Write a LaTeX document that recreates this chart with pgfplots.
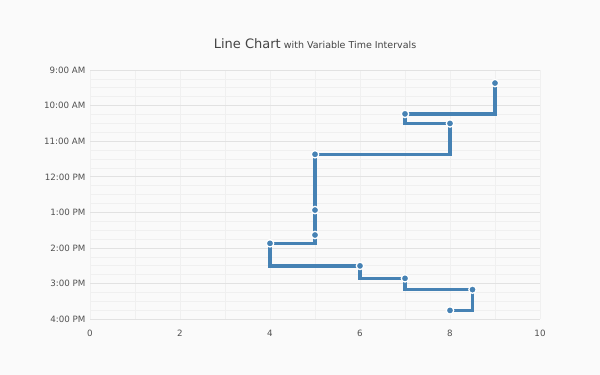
\documentclass[border=0pt]{standalone}
\usepackage{fontspec}
\setmainfont{DejaVu Sans}
\usepackage{pgfplots}
\pgfplotsset{compat=1.18}
\definecolor{bg}{HTML}{FAFAFA}
\definecolor{linec}{HTML}{4682B4}
\definecolor{majgrid}{HTML}{E2E2E2}
\definecolor{mingrid}{HTML}{F0F0F0}
\definecolor{lbl}{HTML}{505050}
\definecolor{ttl}{HTML}{444444}
\begin{document}
\begin{tikzpicture}[x=1pt,y=1pt]
\fill[bg] (0,0) rectangle (600,375);
\begin{axis}[
  at={(90pt,55.7pt)}, anchor=south west,
  scale only axis, width=450pt, height=249.3pt,
  xmin=0, xmax=10, ymin=9, ymax=16,
  y dir=reverse,
  axis line style={draw=none},
  major tick length=0pt, minor tick length=0pt,
  xtick={0,...,10},
  xticklabels={0,,2,,4,,6,,8,,10},
  ytick={9,...,16}, minor y tick num=3,
  yticklabels={9:00 AM,10:00 AM,11:00 AM,12:00 PM,1:00 PM,2:00 PM,3:00 PM,4:00 PM},
  xmajorgrids, ymajorgrids, yminorgrids,
  major x grid style={mingrid, line width=0.8pt},
  major y grid style={majgrid, line width=0.9pt},
  minor y grid style={mingrid, line width=0.8pt},
  /pgf/number format/assume math mode=true,
  tick label style={font=\fontsize{8.7}{8.7}\selectfont, text=lbl},
  xticklabel style={yshift=-7.5pt},
  yticklabel style={xshift=-1pt},
  title={{\fontsize{13}{13}\selectfont Line Chart} {\fontsize{9.5}{9.5}\selectfont with Variable Time Intervals}},
  title style={at={(0.5,1)}, anchor=base, yshift=16pt, text=ttl},
]
\addplot[const plot mark right, draw=linec, line width=3.3pt,
  mark=*, mark size=3.7pt, mark options={fill=linec, draw=white, line width=1.3pt}]
coordinates {
(9,9.367)
(7,10.233)
(8,10.5)
(5,11.367)
(5,12.933)
(5,13.633)
(4,13.867)
(6,14.5)
(7,14.85)
(8.5,15.167)
(8,15.75)
};
\end{axis}
\end{tikzpicture}
\end{document}
